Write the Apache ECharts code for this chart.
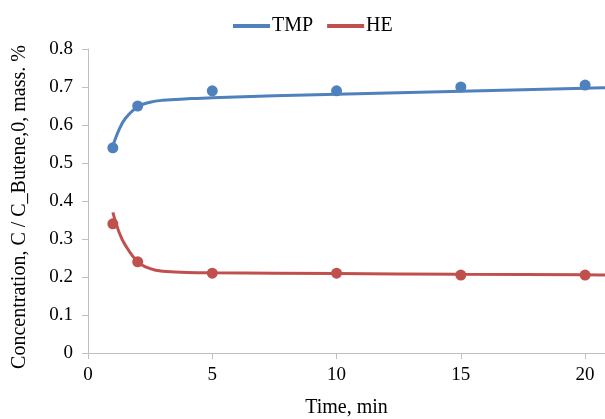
<!DOCTYPE html>
<html>
<head>
<meta charset="utf-8">
<script src="https://cdn.jsdelivr.net/npm/echarts@6/dist/echarts.min.js"></script>
<style>
  html, body { margin: 0; padding: 0; background: #fff; }
  #main { width: 605px; height: 419px; }
</style>
</head>
<body>
<div id="main"></div>
<script>
// measured points
const timePts = [1, 2, 5, 10, 15, 20];
const tmpPts = [0.54, 0.65, 0.69, 0.69, 0.70, 0.705];
const hePts = [0.34, 0.24, 0.21, 0.21, 0.205, 0.205];

// fitted curves
const fitTime = [1, 1.25, 1.5, 2, 2.5, 3, 4, 5, 10, 15, 20, 20.8];
const tmpFit = [0.545, 0.588, 0.617, 0.648, 0.660, 0.665, 0.669, 0.672, 0.681, 0.689, 0.697, 0.698];
const heFit = [0.37, 0.318, 0.284, 0.240, 0.222, 0.215, 0.212, 0.211, 0.209, 0.207, 0.206, 0.205];

const blue = '#4F81BD';
const red = '#C0504D';
const font = 'Liberation Serif';

const zip = (xs, ys) => xs.map((x, i) => [x, ys[i]]);

const chart = echarts.init(document.getElementById('main'));
chart.setOption({
  animation: false,
  textStyle: { fontFamily: font },
  legend: {
    top: 11,
    left: 228,
    itemWidth: 37,
    itemHeight: 4,
    itemGap: 14,
    icon: 'rect',
    textStyle: { fontFamily: font, fontSize: 20, color: '#000', padding: [0, 0, 0, -3] },
    data: [
      { name: 'TMP', itemStyle: { color: blue } },
      { name: 'HE', itemStyle: { color: red } }
    ]
  },
  grid: { left: 88, right: 0, top: 49, bottom: 66, outerBoundsMode: 'none', containLabel: false },
  xAxis: {
    type: 'value',
    min: 0,
    max: 20.8,
    interval: 5,
    name: 'Time, min',
    nameLocation: 'middle',
    nameGap: 45,
    nameTextStyle: { fontFamily: font, fontSize: 20, color: '#000' },
    axisLine: { lineStyle: { color: '#bfbfbf', width: 1 } },
    axisTick: { show: true, length: 6, lineStyle: { color: '#bfbfbf' } },
    axisLabel: { fontFamily: font, fontSize: 19, color: '#000', margin: 13, showMaxLabel: false },
    splitLine: { show: false }
  },
  yAxis: {
    type: 'value',
    min: 0,
    max: 0.8,
    interval: 0.1,
    name: 'Concentration, C / C_Butene,0, mass. %',
    nameLocation: 'middle',
    nameGap: 58,
    nameTextStyle: { fontFamily: font, fontSize: 20, color: '#000', padding: [0, 12, 0, 0] },
    axisLine: { show: true, lineStyle: { color: '#bfbfbf', width: 1 } },
    axisTick: { show: true, length: 6, lineStyle: { color: '#bfbfbf' } },
    axisLabel: { fontFamily: font, fontSize: 19, color: '#000', margin: 15 },
    splitLine: { show: false }
  },
  series: [
    {
      name: 'TMP',
      type: 'line',
      smooth: 0.4,
      showSymbol: false,
      lineStyle: { color: blue, width: 3 },
      itemStyle: { color: blue },
      data: zip(fitTime, tmpFit)
    },
    {
      name: 'HE',
      type: 'line',
      smooth: 0.4,
      showSymbol: false,
      lineStyle: { color: red, width: 3 },
      itemStyle: { color: red },
      data: zip(fitTime, heFit)
    },
    {
      name: 'TMP pts',
      type: 'scatter',
      symbolSize: 11,
      itemStyle: { color: blue, opacity: 1 },
      data: zip(timePts, tmpPts)
    },
    {
      name: 'HE pts',
      type: 'scatter',
      symbolSize: 11,
      itemStyle: { color: red, opacity: 1 },
      data: zip(timePts, hePts)
    }
  ]
});
</script>
</body>
</html>
